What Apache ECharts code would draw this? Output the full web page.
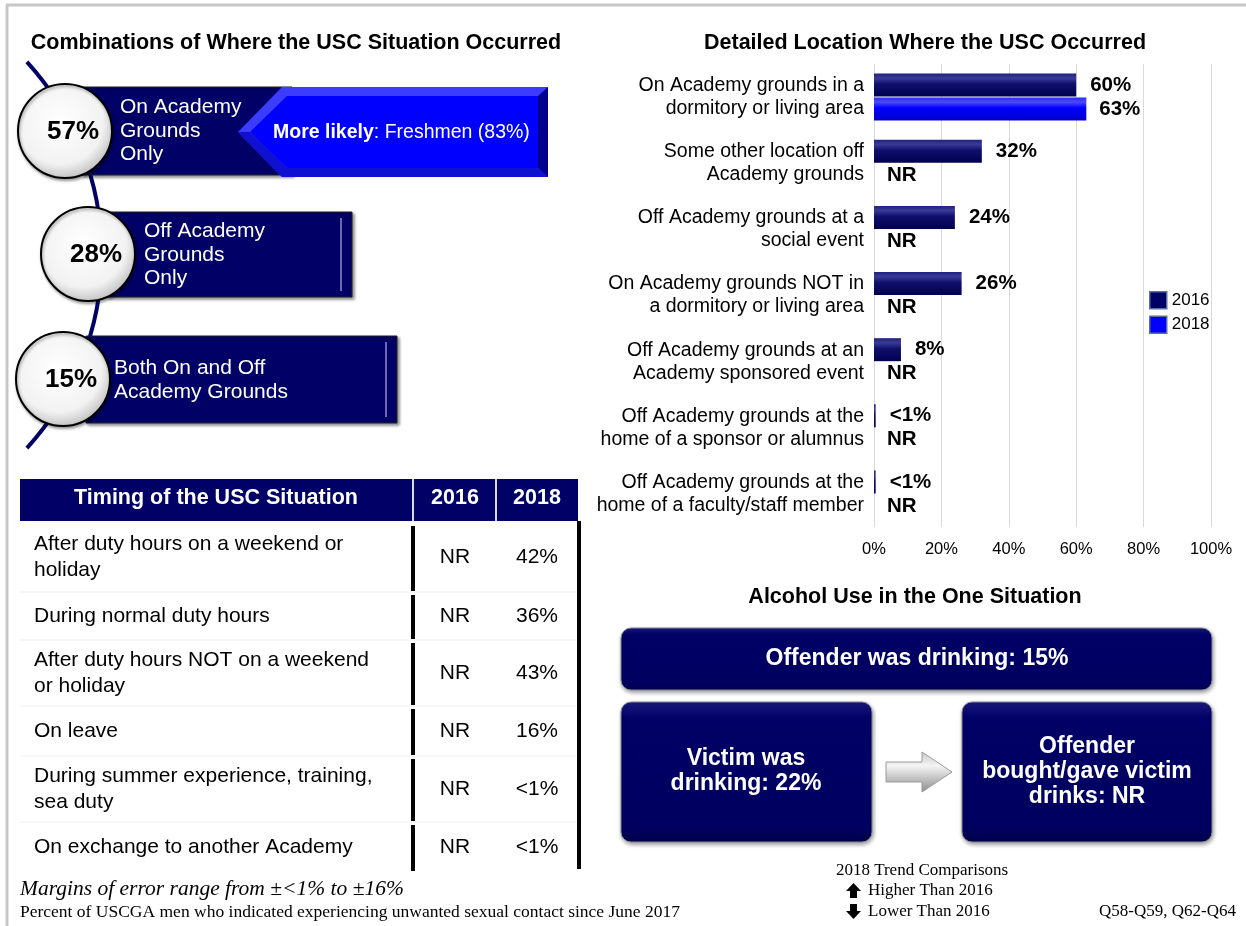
<!DOCTYPE html>
<html>
<head>
<meta charset="utf-8">
<script src="https://cdn.jsdelivr.net/npm/echarts@6/dist/echarts.min.js"></script>
<style>
  html, body { margin: 0; padding: 0; background: #fff; }
  #chart { width: 1246px; height: 926px; }
</style>
</head>
<body>
<div id="chart"></div>
<script>
  // detailed location bar chart
  const locCategories = [
    "On Academy grounds in a\ndormitory or living area",
    "Some other location off\nAcademy grounds",
    "Off Academy grounds at a\nsocial event",
    "On Academy grounds NOT in\na dormitory or living area",
    "Off Academy grounds at an\nAcademy sponsored event",
    "Off Academy grounds at the\nhome of a sponsor or alumnus",
    "Off Academy grounds at the\nhome of a faculty/staff member"
  ];
  const loc2016 = [60, 32, 24, 26, 8, 0.5, 0.5];
  const loc2016Labels = ["60%", "32%", "24%", "26%", "8%", "<1%", "<1%"];
  const loc2018 = [63, null, null, null, null, null, null];
  const loc2018Labels = ["63%", "NR", "NR", "NR", "NR", "NR", "NR"];
  const xTicks = [0, 20, 40, 60, 80, 100];

  // combinations
  const comboPct = ["57%", "28%", "15%"];
  const comboText = ["On Academy\nGrounds\nOnly", "Off Academy\nGrounds\nOnly", "Both On and Off\nAcademy Grounds"];
  const comboNote = "Freshmen (83%)";

  // timing table
  const timingRows = [
    "After duty hours on a weekend or\nholiday",
    "During normal duty hours",
    "After duty hours NOT on a weekend\nor holiday",
    "On leave",
    "During summer experience, training,\nsea duty",
    "On exchange to another Academy"
  ];
  const timing2016 = ["NR", "NR", "NR", "NR", "NR", "NR"];
  const timing2018 = ["42%", "36%", "43%", "16%", "<1%", "<1%"];

  // alcohol
  const alcoholTop = "Offender was drinking: 15%";
  const alcoholLeft = "Victim was\ndrinking: 22%";
  const alcoholRight = "Offender\nbought/gave victim\ndrinks: NR";

  const NAVY = "#000066";
  const SANS = "'Liberation Sans', Arial, sans-serif";
  const SERIF = "'Liberation Serif', 'Times New Roman', serif";

  const chart = echarts.init(document.getElementById("chart"));

  function txt(text, x, y, size, opts) {
    opts = opts || {};
    return {
      type: "text", z: opts.z || 20,
      style: {
        text: text, x: x, y: y,
        fill: opts.fill || "#000",
        fontSize: size,
        fontWeight: opts.bold ? "bold" : "normal",
        fontStyle: opts.italic ? "italic" : "normal",
        fontFamily: opts.family || SANS,
        textAlign: opts.align || "left",
        textVerticalAlign: "middle",
        lineHeight: opts.lh || size * 1.2,
        rich: opts.rich
      }
    };
  }

  const g = [];
  // page border
  g.push({ type: "line", shape: { x1: 6, y1: 5, x2: 1246, y2: 5 }, style: { stroke: "#c8c8c8", lineWidth: 3 } });
  g.push({ type: "line", shape: { x1: 7, y1: 5, x2: 7, y2: 926 }, style: { stroke: "#c8c8c8", lineWidth: 3 } });

  // titles
  g.push(txt("Combinations of Where the USC Situation Occurred", 296, 43, 21.5, { bold: true, align: "center" }));
  g.push(txt("Detailed Location Where the USC Occurred", 925, 43, 21.5, { bold: true, align: "center" }));
  g.push(txt("Alcohol Use in the One Situation", 915, 597, 21.5, { bold: true, align: "center" }));

  // arc behind circles
  g.push({ type: "arc", z: 2, shape: { cx: -184.6, cy: 255, r: 286.4, startAngle: -0.74, endAngle: 0.74, clockwise: true },
    style: { stroke: NAVY, lineWidth: 4, fill: null } });

  const boxStyle = { fill: NAVY, stroke: "#222", lineWidth: 1, shadowBlur: 3, shadowColor: "rgba(0,0,0,0.45)", shadowOffsetX: 2, shadowOffsetY: 2 };
  const boxes = [
    { x: 82, y: 87, w: 210, h: 88, tx: 120, ty: 131 },
    { x: 107, y: 212, w: 245, h: 85, tx: 144, ty: 255 },
    { x: 86, y: 336, w: 311, h: 87, tx: 114, ty: 380 }
  ];
  const circles = [[65, 131], [88, 254], [63, 379]];
  boxes.forEach((b, i) => {
    g.push({ type: "rect", z: 5, shape: { x: b.x, y: b.y, width: b.w, height: b.h }, style: boxStyle });
    g.push({ type: "line", z: 6, shape: { x1: b.x + b.w - 11, y1: b.y + 6, x2: b.x + b.w - 11, y2: b.y + b.h - 6 }, style: { stroke: "#6a6ab0", lineWidth: 2 } });
    g.push(txt(comboText[i], b.tx, b.ty, 21, { fill: "#fff", lh: 23.5 }));
    g.push({ type: "circle", z: 10, shape: { cx: circles[i][0], cy: circles[i][1], r: 47 },
      style: { fill: { type: "radial", x: 0.45, y: 0.4, r: 0.62, colorStops: [{ offset: 0, color: "#ffffff" }, { offset: 0.72, color: "#f2f2f2" }, { offset: 1, color: "#bdbdbd" }] },
        stroke: "#000", lineWidth: 2, shadowBlur: 3, shadowColor: "rgba(0,0,0,0.35)", shadowOffsetX: 1, shadowOffsetY: 2 } });
    g.push(txt(comboPct[i], circles[i][0] + 8, circles[i][1] + 1, 26, { bold: true, align: "center", z: 12 }));
  });

  // blue "more likely" arrow box with bevel
  g.push({ type: "polygon", z: 7, shape: { points: [[238, 132], [282, 87], [548, 87], [548, 177], [282, 177]] }, style: { fill: "#3c3cff" } });
  g.push({ type: "polygon", z: 8, shape: { points: [[548, 87], [548, 177], [538, 168], [538, 96]] }, style: { fill: "#00008a" } });
  g.push({ type: "polygon", z: 8, shape: { points: [[238, 132], [282, 177], [548, 177], [538, 168], [287, 168], [250, 132]] }, style: { fill: "#1010d0" } });
  g.push({ type: "polygon", z: 9, shape: { points: [[250, 132], [287, 96], [538, 96], [538, 168], [287, 168]] }, style: { fill: "#0000ff" } });
  g.push(txt("{b|More likely}: " + comboNote, 273, 133, 19.5, { fill: "#fff", z: 12,
    rich: { b: { fontSize: 19.5, fontWeight: "bold", fill: "#fff", fontFamily: SANS } } }));

  // timing table
  g.push({ type: "rect", z: 5, shape: { x: 20, y: 479, width: 558, height: 42 }, style: { fill: NAVY } });
  g.push({ type: "line", z: 6, shape: { x1: 413, y1: 479, x2: 413, y2: 521 }, style: { stroke: "#d8d8e8", lineWidth: 2 } });
  g.push({ type: "line", z: 6, shape: { x1: 496, y1: 479, x2: 496, y2: 521 }, style: { stroke: "#d8d8e8", lineWidth: 2 } });
  g.push(txt("Timing of the USC Situation", 216, 498, 21.5, { bold: true, fill: "#fff", align: "center" }));
  g.push(txt("2016", 455, 498, 21.5, { bold: true, fill: "#fff", align: "center" }));
  g.push(txt("2018", 537, 498, 21.5, { bold: true, fill: "#fff", align: "center" }));
  const rowEdges = [523, 592, 640, 706, 756, 822, 872];
  timingRows.forEach((r, i) => {
    const y0 = rowEdges[i], y1 = rowEdges[i + 1], cy = (y0 + y1) / 2;
    if (i > 0) g.push({ type: "line", z: 4, shape: { x1: 20, y1: y0, x2: 578, y2: y0 }, style: { stroke: "#f0f0f0", lineWidth: 1 } });
    g.push({ type: "rect", z: 6, shape: { x: 411, y: y0 + 3, width: 4, height: y1 - y0 - 4 }, style: { fill: "#000" } });
    g.push(txt(r, 34, cy, 21, { lh: 26 }));
    g.push(txt(timing2016[i], 455, cy, 21, { align: "center" }));
    g.push(txt(timing2018[i], 537, cy, 21, { align: "center" }));
  });
  g.push({ type: "rect", z: 6, shape: { x: 577, y: 521, width: 4, height: 348 }, style: { fill: "#000" } });

  // alcohol boxes
  const alcFill = { type: "linear", x: 0, y: 0, x2: 0, y2: 1, colorStops: [{ offset: 0, color: "#1a1a80" }, { offset: 0.12, color: "#000066" }, { offset: 0.9, color: "#000060" }, { offset: 1, color: "#00004a" }] };
  const alcStyle = { fill: alcFill, stroke: "#8a8a9a", lineWidth: 1, shadowBlur: 4, shadowColor: "rgba(0,0,0,0.4)", shadowOffsetX: 1, shadowOffsetY: 2 };
  g.push({ type: "rect", z: 5, shape: { x: 621, y: 628, width: 591, height: 62, r: 10 }, style: alcStyle });
  g.push({ type: "rect", z: 5, shape: { x: 621, y: 702, width: 251, height: 140, r: 10 }, style: alcStyle });
  g.push({ type: "rect", z: 5, shape: { x: 962, y: 702, width: 250, height: 140, r: 10 }, style: alcStyle });
  g.push(txt(alcoholTop, 917, 659, 23, { bold: true, fill: "#fff", align: "center" }));
  g.push(txt(alcoholLeft, 746, 771, 23, { bold: true, fill: "#fff", align: "center", lh: 25 }));
  g.push(txt(alcoholRight, 1087, 772, 23, { bold: true, fill: "#fff", align: "center", lh: 25 }));
  g.push({ type: "polygon", z: 6, shape: { points: [[886, 762], [922, 762], [922, 752], [952, 772], [922, 792], [922, 782], [886, 782]] },
    style: { fill: { type: "linear", x: 0, y: 0, x2: 0, y2: 1, colorStops: [{ offset: 0, color: "#c8c8c8" }, { offset: 0.35, color: "#f4f4f4" }, { offset: 1, color: "#8c8c8c" }] },
      stroke: "#9a9a9a", lineWidth: 1 } });

  // footer
  g.push(txt("Margins of error range from \u00b1<1% to \u00b116%", 20, 889, 21.5, { italic: true, family: SERIF }));
  g.push(txt("Percent of USCGA men who indicated experiencing unwanted sexual contact since June 2017", 20, 912, 17.5, { family: SERIF }));
  g.push(txt("2018 Trend Comparisons", 922, 871, 17, { family: SERIF, align: "center" }));
  g.push(txt("Higher Than 2016", 868, 891, 17, { family: SERIF }));
  g.push(txt("Lower Than 2016", 868, 912, 17, { family: SERIF }));
  g.push(txt("Q58-Q59, Q62-Q64", 1236, 912, 17, { family: SERIF, align: "right" }));
  g.push({ type: "polygon", shape: { points: [[853.5, 883], [861, 891], [857, 891], [857, 898], [850, 898], [850, 891], [846, 891]] }, style: { fill: "#000" } });
  g.push({ type: "polygon", shape: { points: [[850, 904], [857, 904], [857, 911], [861, 911], [853.5, 919], [846, 911], [850, 911]] }, style: { fill: "#000" } });

  const grad2016 = { type: "linear", x: 0, y: 0, x2: 0, y2: 1, colorStops: [{ offset: 0, color: "#202080" }, { offset: 0.2, color: "#3a3a98" }, { offset: 0.45, color: "#10106c" }, { offset: 1, color: "#000050" }] };
  const grad2018 = { type: "linear", x: 0, y: 0, x2: 0, y2: 1, colorStops: [{ offset: 0, color: "#2a2aff" }, { offset: 0.2, color: "#4a4aff" }, { offset: 0.45, color: "#0000ff" }, { offset: 1, color: "#0000c8" }] };

  chart.setOption({
    textStyle: { fontFamily: SANS },
    animation: false,
    grid: { left: 874, right: 35, top: 64, bottom: 399 },
    legend: {
      orient: "vertical", left: 1149, top: 291, padding: 0, itemWidth: 17, itemHeight: 17, itemGap: 6,
      textStyle: { fontSize: 17, lineHeight: 17, color: "#000" },
      data: [
        { name: "2016", icon: "rect", itemStyle: { color: NAVY, borderColor: "#5a6e9a", borderWidth: 1.5 } },
        { name: "2018", icon: "rect", itemStyle: { color: "#0000ff", borderColor: "#5a6e9a", borderWidth: 1.5 } }
      ]
    },
    xAxis: {
      type: "value", min: 0, max: 100, interval: 20,
      axisLine: { show: false }, axisTick: { show: false },
      splitLine: { lineStyle: { color: "#d9d9d9", width: 1 } },
      axisLabel: { formatter: v => xTicks.includes(v) ? v + "%" : "", fontSize: 16.5, color: "#000", margin: 14 }
    },
    yAxis: {
      type: "category", inverse: true, data: locCategories,
      axisLine: { show: false }, axisTick: { show: false },
      axisLabel: { fontSize: 19.5, lineHeight: 23, color: "#000", margin: 10, align: "right" }
    },
    series: [
      {
        name: "2016", type: "bar", data: loc2016, barWidth: 23, barGap: "4%",
        itemStyle: { color: grad2016 },
        label: { show: true, position: "right", distance: 14, fontSize: 20.5, fontWeight: "bold", color: "#000",
          formatter: p => loc2016Labels[p.dataIndex] }
      },
      {
        name: "2018", type: "bar", data: loc2018.map(v => v === null ? 0 : v), barWidth: 23,
        itemStyle: { color: grad2018 },
        label: { show: true, position: "right", distance: 13, fontSize: 20.5, fontWeight: "bold", color: "#000",
          formatter: p => loc2018Labels[p.dataIndex] }
      }
    ],
    graphic: { elements: g }
  });
</script>
</body>
</html>
